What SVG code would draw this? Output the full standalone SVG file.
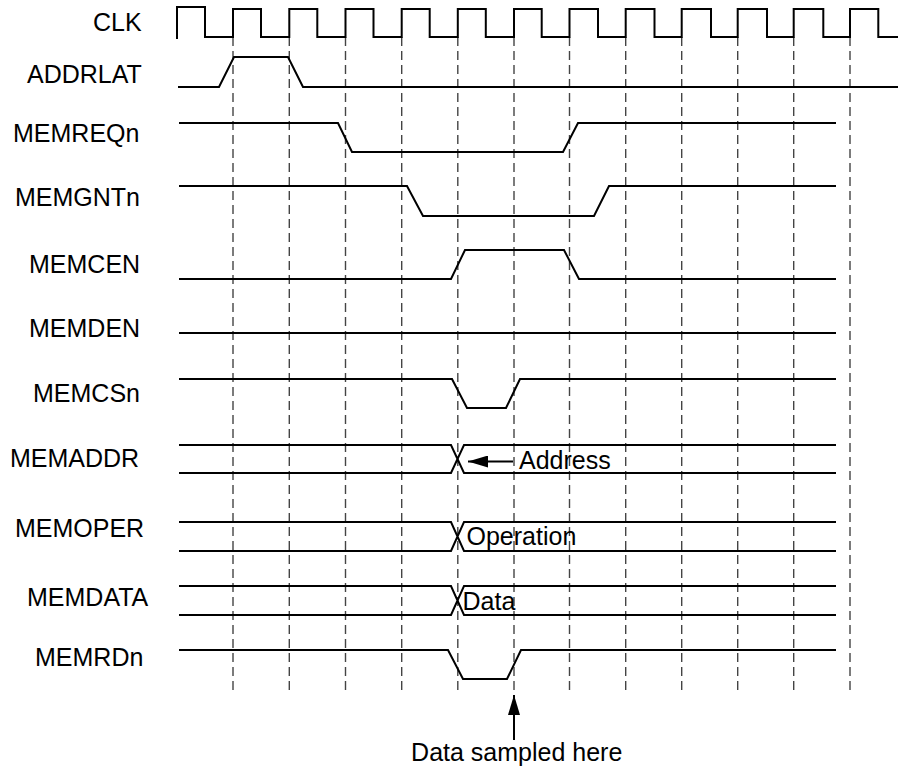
<svg xmlns="http://www.w3.org/2000/svg" width="898" height="769" viewBox="0 0 898 769">
<style>
.sig{fill:none;stroke:#000;stroke-width:2;stroke-linejoin:miter}
.grid{stroke:#444;stroke-width:1.4;stroke-dasharray:9 5}
.lbl{font-family:"Liberation Sans",Arial,sans-serif;font-size:25px;fill:#000}
.arr{stroke:#000;stroke-width:2;fill:none}
</style>
<defs>
<marker id="ah" viewBox="0 0 20 12" refX="20" refY="6" markerWidth="20" markerHeight="12" markerUnits="userSpaceOnUse" orient="auto">
<path d="M0,0 L20,6 L0,12 Z" fill="#000"/>
</marker>
</defs>
<rect width="898" height="769" fill="#fff"/>
<g id="gridlines">
<line class="grid" x1="233" y1="37" x2="233" y2="690"/>
<line class="grid" x1="289.3" y1="37" x2="289.3" y2="690"/>
<line class="grid" x1="345.5" y1="37" x2="345.5" y2="690"/>
<line class="grid" x1="401.7" y1="37" x2="401.7" y2="690"/>
<line class="grid" x1="457.8" y1="37" x2="457.8" y2="690"/>
<line class="grid" x1="514" y1="37" x2="514" y2="690"/>
<line class="grid" x1="569.5" y1="37" x2="569.5" y2="690"/>
<line class="grid" x1="625.7" y1="37" x2="625.7" y2="690"/>
<line class="grid" x1="681.7" y1="37" x2="681.7" y2="690"/>
<line class="grid" x1="737.7" y1="37" x2="737.7" y2="690"/>
<line class="grid" x1="793.7" y1="37" x2="793.7" y2="690"/>
<line class="grid" x1="850" y1="37" x2="850" y2="690"/>
</g>
<g id="CLK">
<text class="lbl" x="93" y="31">CLK</text>
<path class="sig" d="M177,39 V7 H205 V37 H233 V9 H261 V37 H289.3 V9 H317.3 V37 H345.5 V9 H373.5 V37 H401.7 V9 H429.7 V37 H457.8 V9 H485.8 V37 H514 V9 H541.7 V37 H569.5 V9 H598 V37 H625.7 V9 H654.5 V37 H681.7 V9 H711 V37 H737.7 V9 H767 V37 H793.7 V9 H823.3 V37 H850 V9 H878.3 V37 H898"/>
</g>
<g id="ADDRLAT">
<text class="lbl" x="27" y="83">ADDRLAT</text>
<path class="sig" d="M178,87 H219 L234,57 H288 L303,87 H898"/>
</g>
<g id="MEMREQn">
<text class="lbl" x="13" y="142">MEMREQn</text>
<path class="sig" d="M179,123 H338 L352,152 H563 L578,123 H836"/>
</g>
<g id="MEMGNTn">
<text class="lbl" x="15" y="205.5">MEMGNTn</text>
<path class="sig" d="M179,186 H407 L423,216 H594 L609,186 H836"/>
</g>
<g id="MEMCEN">
<text class="lbl" x="29" y="273">MEMCEN</text>
<path class="sig" d="M179,279 H451 L465,250 H564 L579,279 H836"/>
</g>
<g id="MEMDEN">
<text class="lbl" x="29" y="336.5">MEMDEN</text>
<path class="sig" d="M179,333 H836"/>
</g>
<g id="MEMCSn">
<text class="lbl" x="33" y="401.5">MEMCSn</text>
<path class="sig" d="M179,379 H452 L467,408 H506 L520,379 H836"/>
</g>
<g id="MEMADDR">
<text class="lbl" x="10" y="466.5">MEMADDR</text>
<path class="sig" d="M179,445 H451 L464,473 H836 M179,473 H451 L464,445 H836"/>
<text class="lbl" x="519" y="468.5">Address</text>
</g>
<g id="MEMOPER">
<text class="lbl" x="15" y="537">MEMOPER</text>
<path class="sig" d="M179,522 H451 L464,551 H836 M179,551 H451 L464,522 H836"/>
<text class="lbl" x="466.5" y="545">Operation</text>
</g>
<g id="MEMDATA">
<text class="lbl" x="27" y="606">MEMDATA</text>
<path class="sig" d="M179,586 H451 L464,615 H836 M179,615 H451 L464,586 H836"/>
<text class="lbl" x="462.5" y="610">Data</text>
</g>
<g id="MEMRDn">
<text class="lbl" x="35" y="666">MEMRDn</text>
<path class="sig" d="M179,650 H448 L463,679 H507 L521,650 H836"/>
</g>
<g id="sample-note">
<text class="lbl" x="516.7" y="761" text-anchor="middle">Data sampled here</text>
</g>
<g id="connectors">
<line class="arr" x1="513" y1="461.5" x2="468" y2="461.5" marker-end="url(#ah)"/>
<line class="arr" x1="514" y1="740" x2="514" y2="695" marker-end="url(#ah)"/>
</g>
</svg>
